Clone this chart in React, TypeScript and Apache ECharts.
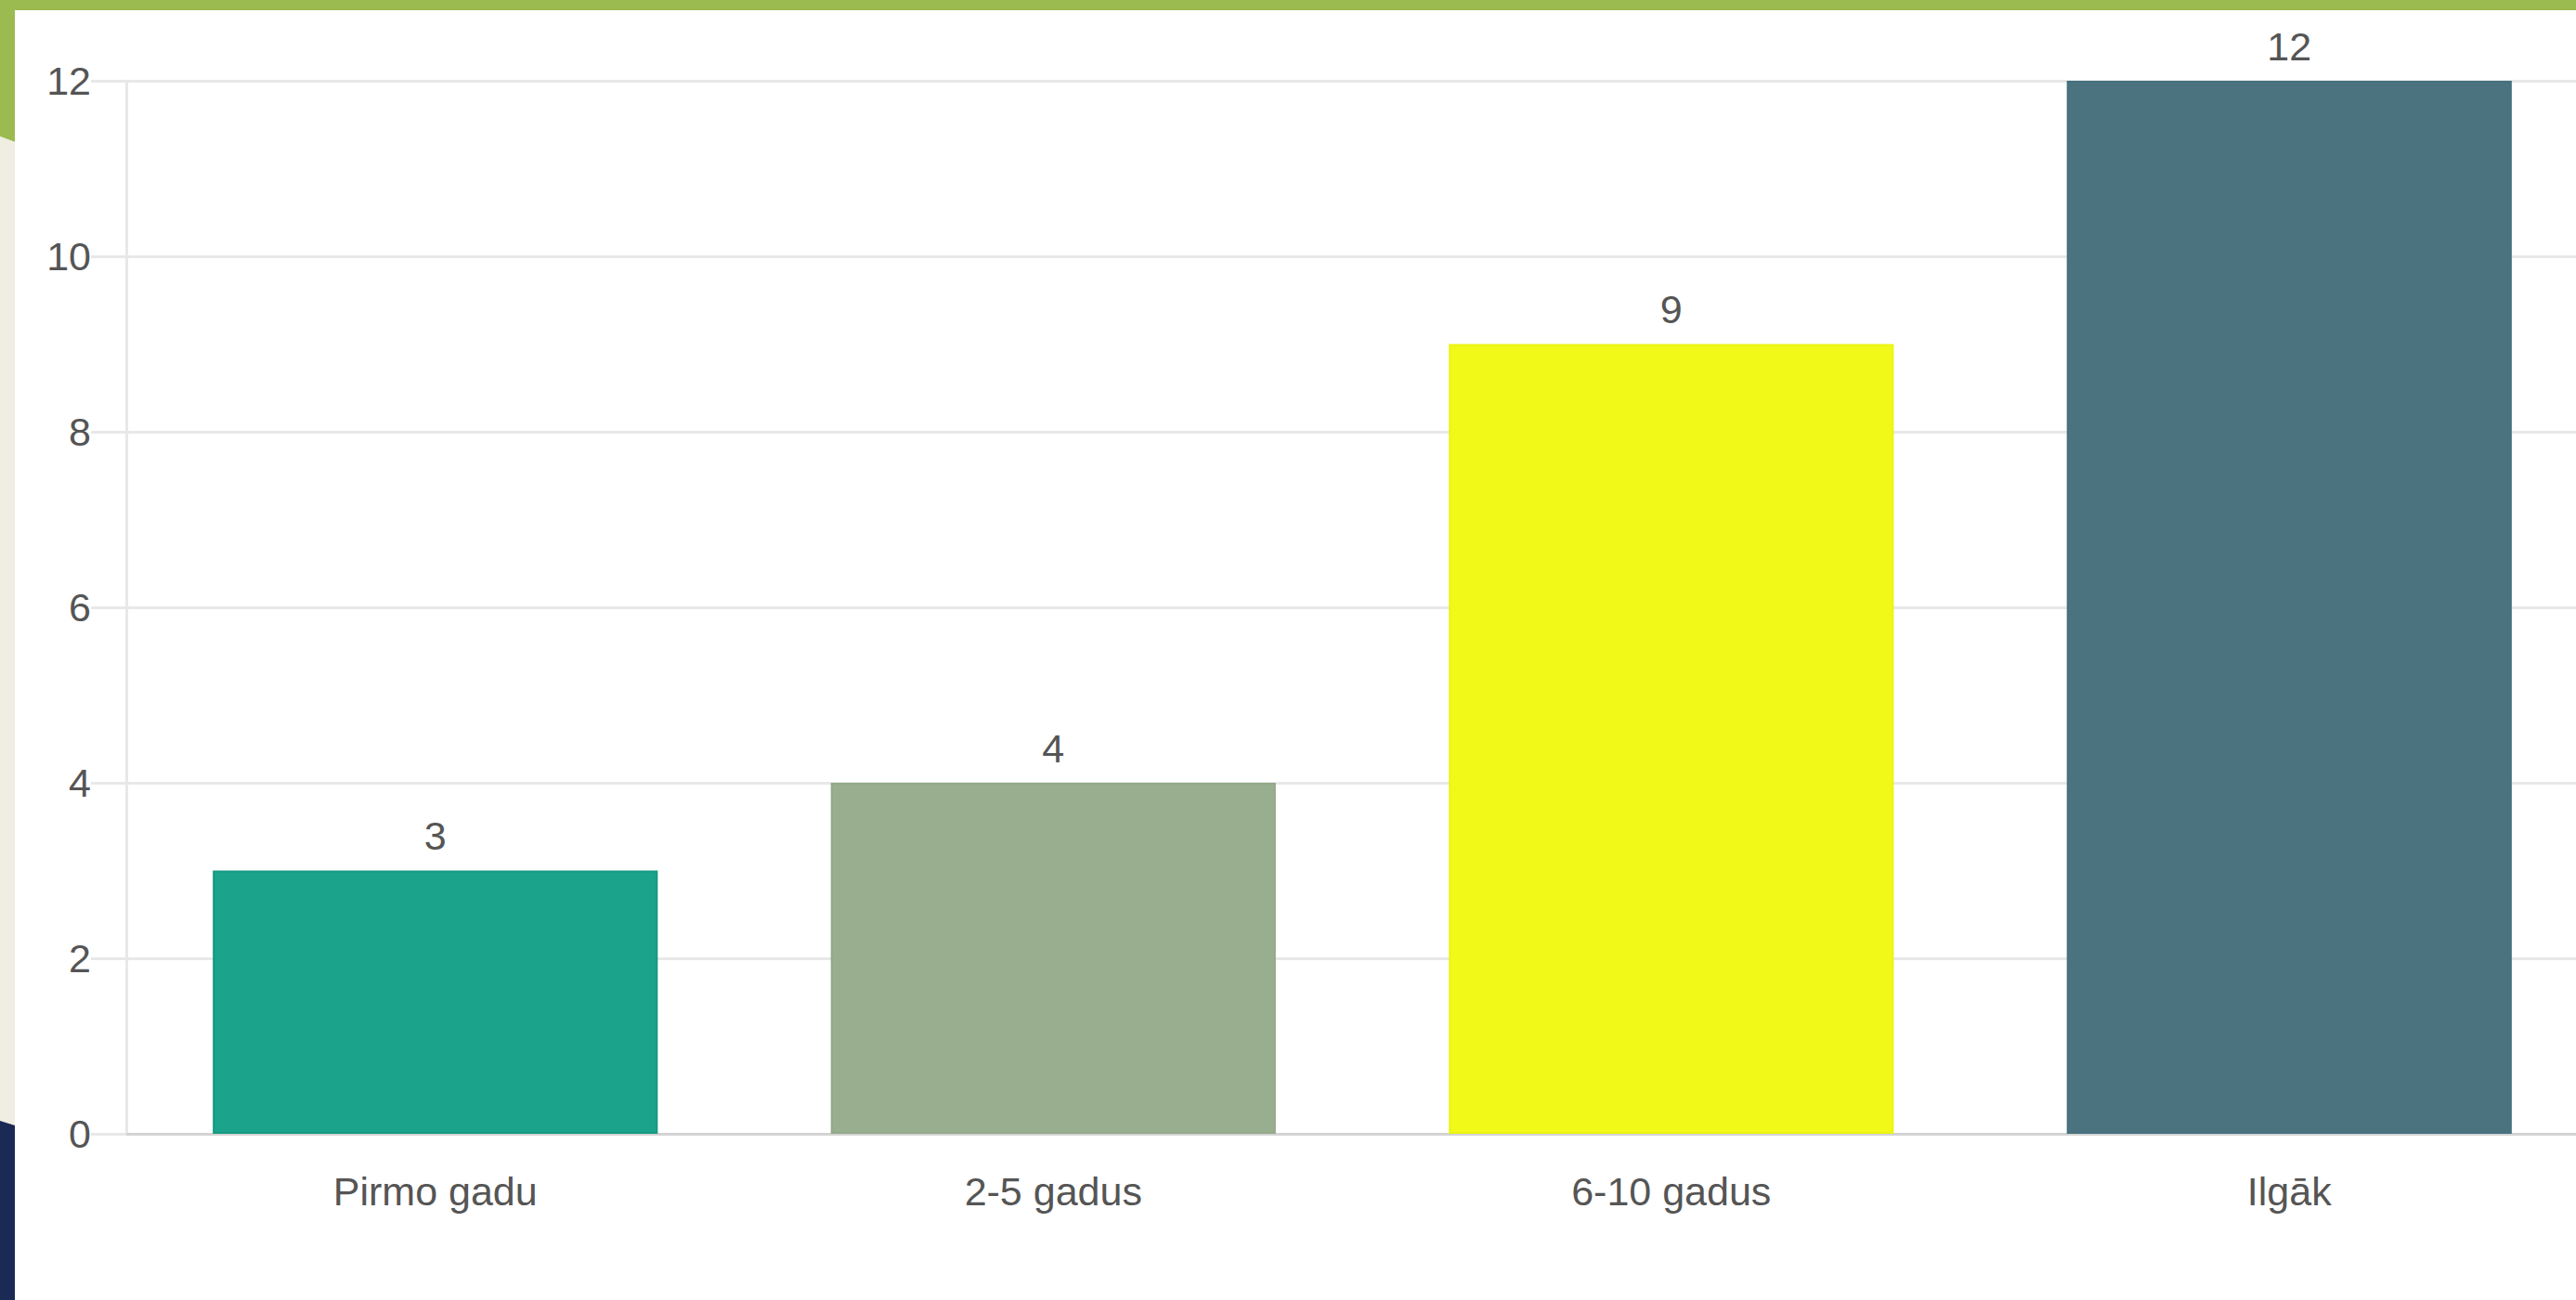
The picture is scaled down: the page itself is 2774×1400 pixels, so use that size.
import React, { useEffect, useRef } from "react";
import * as echarts from "echarts";

const categories = ["Pirmo gadu", "2-5 gadus", "6-10 gadus", "Ilgāk"];
const values = [3, 4, 9, 12];
const barColors = ["#1BA38B", "#99AE8F", "#F0F918", "#4A727F"];
const borderColors = ["#139A82", "#93A989", "#EBF412", "#45707E"];
const yTicks = [0, 2, 4, 6, 8, 10, 12];

const FONT = "'Liberation Sans', Arial, sans-serif";
const TEXT = "#555555";

export default function App() {
  const ref = useRef<HTMLDivElement>(null);

  useEffect(() => {
    if (!ref.current) return;
    const chart = echarts.init(ref.current, undefined, { renderer: "svg" });
    chart.setOption({
      animation: false,
      backgroundColor: "#ffffff",
      textStyle: { fontFamily: FONT },
      grid: { left: 136, right: 32, top: 87, bottom: 179, containLabel: false },
      xAxis: {
        type: "category",
        data: categories,
        axisLine: { show: true, lineStyle: { color: "#d3d3d3", width: 3 } },
        axisTick: { show: false },
        splitLine: { show: false },
        axisLabel: { color: TEXT, fontSize: 43, fontFamily: FONT, margin: 40 },
      },
      yAxis: {
        type: "value",
        min: yTicks[0],
        max: yTicks[yTicks.length - 1],
        interval: 2,
        axisLine: { show: true, lineStyle: { color: "#e8e8e8", width: 3 } },
        axisTick: { show: true, length: 38, lineStyle: { color: "#e8e8e8", width: 3 } },
        splitLine: { show: true, lineStyle: { color: "#e8e8e8", width: 3 } },
        axisLabel: {
          color: TEXT,
          fontSize: 43,
          fontFamily: FONT,
          margin: 38,
          padding: [0, 0, 10, 0],
        },
      },
      series: [
        {
          type: "bar",
          barWidth: "72%",
          data: values.map((v, i) => ({
            value: v,
            itemStyle: { color: barColors[i], borderColor: borderColors[i], borderWidth: 2 },
          })),
          label: {
            show: true,
            position: "top",
            distance: 16,
            color: TEXT,
            fontSize: 43,
            fontFamily: FONT,
          },
        },
      ],
      graphic: [
        { type: "rect", shape: { x: 0, y: 0, width: 2830, height: 11 }, style: { fill: "#9BBB50" }, z: 100 },
        { type: "polygon", shape: { points: [[0, 0], [16, 0], [16, 153], [0, 147]] }, style: { fill: "#9BBB50" }, z: 100 },
        { type: "polygon", shape: { points: [[0, 147], [16, 153], [16, 1212], [0, 1207]] }, style: { fill: "#F0EEE2" }, z: 100 },
        { type: "polygon", shape: { points: [[0, 1207], [16, 1212], [16, 1400], [0, 1400]] }, style: { fill: "#1B2A55" }, z: 100 },
      ],
    });
    return () => chart.dispose();
  }, []);

  return (
    <div
      style={{
        position: "fixed",
        left: 0,
        top: 0,
        width: 2774,
        height: 1400,
        overflow: "hidden",
        background: "#ffffff",
      }}
    >
      <div ref={ref} style={{ width: 2830, height: 1400 }} />
    </div>
  );
}
